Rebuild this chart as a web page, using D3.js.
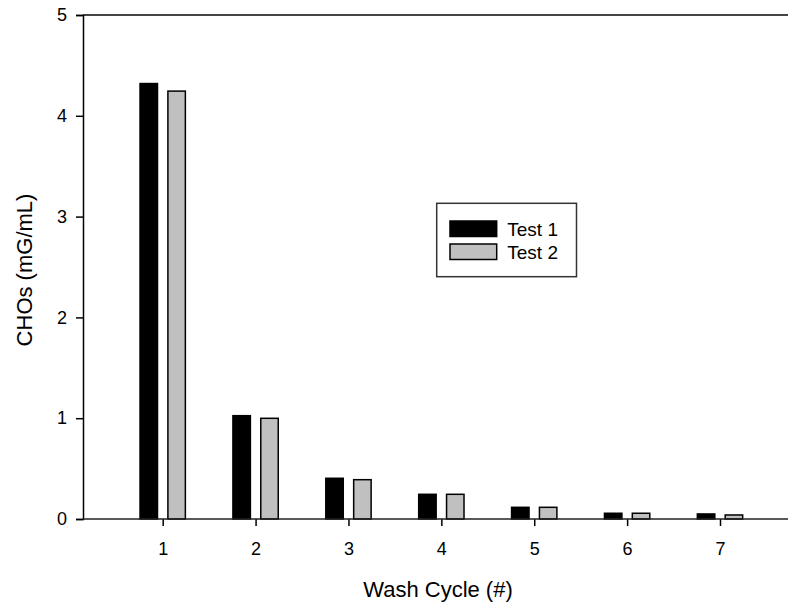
<!DOCTYPE html>
<html>
<head>
<meta charset="utf-8">
<script src="https://cdn.jsdelivr.net/npm/d3@7"></script>
<style>
  html, body { margin: 0; padding: 0; background: #fff; }
  svg { display: block; }
  text { font-family: "Liberation Sans", Arial, sans-serif; fill: #000; }
</style>
</head>
<body>
<div id="chart"></div>
<script>
// ---- data ----
const categories = [1, 2, 3, 4, 5, 6, 7];
const test1 = [4.32, 1.025, 0.404, 0.245, 0.116, 0.057, 0.05];
const test2 = [4.245, 0.999, 0.39, 0.245, 0.116, 0.057, 0.04];
const seriesNames = ["Test 1", "Test 2"];
const seriesColors = ["#000000", "#c0c0c0"];
const yTicks = [0, 1, 2, 3, 4, 5];
const xLabel = "Wash Cycle (#)";
const yLabel = "CHOs (mG/mL)";

const W = 788, H = 604;
const plotLeft = 83, plotRight = 788, plotTop = 15, plotBottom = 519;

const svg = d3.select("#chart").append("svg")
  .attr("width", W).attr("height", H);

const x = d3.scaleLinear().domain([1, 7]).range([162.7, 720]);
const y = d3.scaleLinear().domain([0, 5]).range([plotBottom, plotTop]);

const step = x(2) - x(1);
const barW = step * 0.188;
const offset = step * 0.15;

const series = [test1, test2];

// bars
series.forEach((vals, si) => {
  svg.append("g").selectAll("rect")
    .data(categories.map((c, i) => ({ c, v: vals[i] })))
    .join("rect")
    .attr("x", d => x(d.c) + (si === 0 ? -offset : offset) - barW / 2)
    .attr("y", d => y(d.v))
    .attr("width", barW)
    .attr("height", d => y(0) - y(d.v))
    .attr("fill", seriesColors[si])
    .attr("stroke", "#000")
    .attr("stroke-width", 1.5);
});

// top frame line
svg.append("line")
  .attr("x1", plotLeft).attr("x2", plotRight)
  .attr("y1", y(5)).attr("y2", y(5))
  .attr("stroke", "#444").attr("stroke-width", 2);

// y axis
const yAxis = svg.append("g")
  .attr("transform", `translate(${plotLeft},0)`)
  .call(d3.axisLeft(y).tickValues(yTicks).tickFormat(d3.format("d")).tickSize(7).tickPadding(9));
yAxis.select(".domain").attr("stroke", "#000").attr("stroke-width", 1.5);
yAxis.selectAll(".tick line").attr("stroke", "#000").attr("stroke-width", 1.5);
yAxis.selectAll("text").style("font-size", "18px").attr("fill", "#000");

// x axis
const xAxis = svg.append("g")
  .attr("transform", `translate(0,${plotBottom})`)
  .call(d3.axisBottom(x).tickValues(categories).tickFormat(d3.format("d")).tickSize(7).tickPadding(16));
xAxis.select(".domain").remove();
xAxis.selectAll(".tick line").attr("stroke", "#000").attr("stroke-width", 1.5);
xAxis.selectAll("text").style("font-size", "18px").attr("fill", "#000");

svg.append("line")
  .attr("x1", plotLeft).attr("x2", plotRight)
  .attr("y1", plotBottom).attr("y2", plotBottom)
  .attr("stroke", "#222").attr("stroke-width", 1.5);

// axis titles
svg.append("text")
  .attr("x", 438).attr("y", 597)
  .attr("text-anchor", "middle")
  .style("font-size", "22px")
  .text(xLabel);

svg.append("text")
  .attr("transform", `translate(32,270) rotate(-90)`)
  .attr("text-anchor", "middle")
  .style("font-size", "22px")
  .text(yLabel);

// legend
const lg = svg.append("g");
lg.append("rect")
  .attr("x", 436.7).attr("y", 203.3)
  .attr("width", 139.8).attr("height", 73.4)
  .attr("fill", "#fff").attr("stroke", "#333").attr("stroke-width", 1.5);
seriesNames.forEach((name, i) => {
  const yy = 221 + i * 23;
  lg.append("rect")
    .attr("x", 450).attr("y", yy)
    .attr("width", 46.7).attr("height", 15.5)
    .attr("fill", seriesColors[i]).attr("stroke", "#000").attr("stroke-width", 1.5);
  lg.append("text")
    .attr("x", 507.3).attr("y", yy + 8)
    .attr("dy", "0.35em")
    .style("font-size", "19px")
    .text(name);
});
</script>
</body>
</html>
